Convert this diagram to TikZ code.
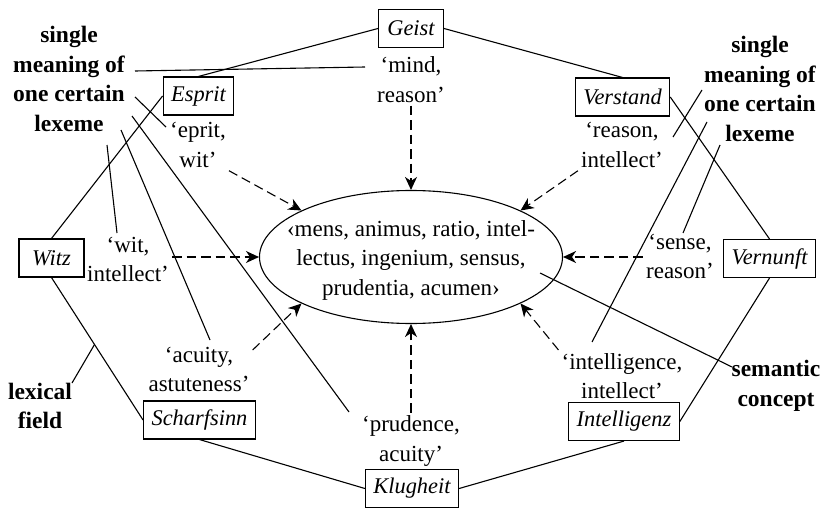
\documentclass[tikz,border=0pt]{standalone}
\usepackage{fontspec}
\setmainfont{Liberation Serif}
\usetikzlibrary{shapes.geometric,arrows.meta}
\begin{document}
\begin{tikzpicture}[x=1pt,y=-1pt,
  basefont/.style={font=\fontsize{23pt}{29.5pt}\selectfont},
  lexeme/.style={draw, line width=1.1pt, font=\fontsize{22.4pt}{29.5pt}\selectfont\itshape,
    minimum width=65pt, minimum height=38pt, inner xsep=8pt, inner ysep=0pt},
  meaning/.style={basefont, align=center, inner sep=3pt},
  note/.style={align=center, font=\fontsize{23.5pt}{29.5pt}\selectfont\bfseries, inner sep=2pt},
  fieldline/.style={line width=1.1pt},
  noteline/.style={line width=1.1pt},
  senselink/.style={line width=1.1pt, dash pattern=on 9.5pt off 5pt,
    -{Stealth[length=13pt,width=12pt,inset=4pt]}},
]
\useasboundingbox (0,0) rectangle (827,508);

% lexemes of the lexical field
\node[lexeme] (Geist)       at (411,28.5)  {Geist};
\node[lexeme] (Esprit)      at (198.5,96)  {Esprit};
\node[lexeme] (Verstand)    at (622.5,97)  {Verstand};
\node[lexeme] (Witz)        at (51.5,258)  {Witz};
\node[lexeme] (Vernunft)    at (769.5,258.5) {Vernunft};
\node[lexeme] (Scharfsinn)  at (199.5,420) {Scharfsinn};
\node[lexeme] (Intelligenz) at (624,421.5) {Intelligenz};
\node[lexeme] (Klugheit)    at (412,488.5) {Klugheit};

% the lexical field as a closed ring
\draw[fieldline] (Geist.west) -- (Esprit.north);
\draw[fieldline] (Geist.east) -- (Verstand.north);
\draw[fieldline] (Esprit.west) -- (Witz.north);
\draw[fieldline] (Witz.south) -- coordinate[pos=0.47] (lexFoot) (Scharfsinn.west);
\draw[fieldline] (Scharfsinn.south) -- (Klugheit.west);
\draw[fieldline] (Klugheit.east) -- (Intelligenz.south);
\draw[fieldline] (Intelligenz.east) -- (Vernunft.south);
\draw[fieldline] (Vernunft.north) -- (Verstand.east);

% single meanings
\node[meaning] (mGeist)       at (411,79.5)  {‘mind,\\reason’};
\node[meaning] (mEsprit)      at (198,145)   {‘eprit,\\wit’};
\node[meaning] (mVerstand)    at (622,145)   {‘reason,\\intellect’};
\node[meaning] (mWitz)        at (128,259.5) {‘wit,\\intellect’};
\node[meaning] (mVernunft)    at (680,256.5) {‘sense,\\reason’};
\node[meaning] (mScharfsinn)  at (199,369.5) {‘acuity,\\astuteness’};
\node[meaning] (mIntelligenz) at (622,376)   {‘intelligence,\\intellect’};
\node[meaning] (mKlugheit)    at (411,441)   {‘prudence,\\acuity’};

% semantic concept
\node[draw, ellipse, line width=1.1pt, minimum width=303pt, minimum height=133pt, inner sep=0pt]
  (concept) at (411,257) {};
\node[basefont, align=center] (conceptText) at (411,260)
  {‹mens, animus, ratio, intel-\\lectus, ingenium, sensus,\\prudentia, acumen›};

% meanings point to the concept
\draw[senselink] (mGeist) -- (concept);
\draw[senselink] (mEsprit.south east) -- (concept.157);
\draw[senselink] (mVerstand.south west) -- (concept.23);
\draw[senselink] (mWitz.east |- concept.west) -- (concept.west);
\draw[senselink] (mVernunft.west |- concept.east) -- (concept.east);
\draw[senselink] (mScharfsinn.20) -- (concept.203);
\draw[senselink] (mIntelligenz.north west) -- (concept.-23);
\draw[senselink] (mKlugheit) -- (concept);

% annotations
\node[note] (noteL)   at (69,79)   {single\\meaning of\\one certain\\lexeme};
\node[note] (noteR)   at (760,89)  {single\\meaning of\\one certain\\lexeme};
\node[note] (noteSem) at (776,386) {semantic\\concept};
\node[note] (noteLex) at (40,406)  {lexical\\field};

% annotation pointers
\coordinate (pL1a) at (135,71);  \coordinate (pL1b) at (365,67);
\coordinate (pL2a) at (135,97);  \coordinate (pL2b) at (166,127);
\coordinate (pL3a) at (107,145); \coordinate (pL3b) at (117,233);
\coordinate (pL4a) at (121,130); \coordinate (pL4b) at (210,340);
\coordinate (pL5a) at (132,116); \coordinate (pL5b) at (349,412);
\coordinate (pR1a) at (702,90);  \coordinate (pR1b) at (673,137);
\coordinate (pR2a) at (707,122); \coordinate (pR2b) at (592,342);
\coordinate (pR3a) at (720,145); \coordinate (pR3b) at (683,233);
\coordinate (semIn)  at (540,273); \coordinate (semOut) at (732,367);
\coordinate (lexTop) at (72,383);

\draw[noteline] (pL1a) -- (pL1b);
\draw[noteline] (pL2a) -- (pL2b);
\draw[noteline] (pL3a) -- (pL3b);
\draw[noteline] (pL4a) -- (pL4b);
\draw[noteline] (pL5a) -- (pL5b);
\draw[noteline] (pR1a) -- (pR1b);
\draw[noteline] (pR2a) -- (pR2b);
\draw[noteline] (pR3a) -- (pR3b);
\draw[noteline] (semIn) -- (semOut);
\draw[noteline] (lexTop) -- (lexFoot);
\end{tikzpicture}
\end{document}
